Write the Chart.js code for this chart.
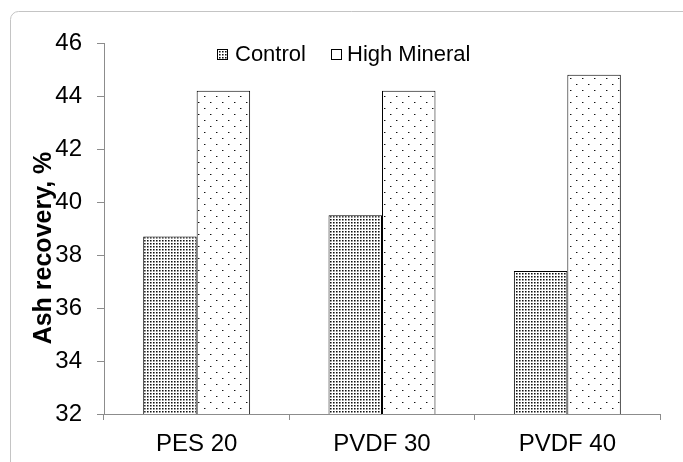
<!DOCTYPE html>
<html>
<head>
<meta charset="utf-8">
<script src="https://cdn.jsdelivr.net/npm/chart.js@4/dist/chart.umd.min.js"></script>
<style>
html,body{margin:0;padding:0;background:#fff;}
#wrap{width:683px;height:462px;position:relative;}
</style>
</head>
<body>
<div id="wrap"><canvas id="c" width="683" height="462"></canvas></div>
<script>
const categories = ["PES 20", "PVDF 30", "PVDF 40"];
const seriesNames = ["Control", "High Mineral"];
const controlValues = [38.7, 39.5, 37.4];
const highMineralValues = [44.2, 44.2, 44.8];
const yTicks = [32, 34, 36, 38, 40, 42, 44, 46];
const yTitle = "Ash recovery, %";

const FONT = '"Liberation Sans", Arial, sans-serif';

function makePattern(size, dots) {
  const c = document.createElement('canvas');
  c.width = size[0]; c.height = size[1];
  const g = c.getContext('2d');
  g.fillStyle = '#fff';
  g.fillRect(0, 0, c.width, c.height);
  dots.forEach(d => { g.fillStyle = d[2]; g.fillRect(d[0], d[1], 1, 1); });
  return g.createPattern(c, 'repeat');
}
const denseDots = makePattern([3, 3], [[0,0,'#111'],[1,0,'#777'],[0,1,'#888'],[1,1,'#bbb']]);
const sparseDots = makePattern([12, 12], [[0,0,'#111'],[1,0,'#999'],[6,6,'#111'],[7,6,'#999']]);

const frame = {
  id: 'frame',
  beforeDraw(chart) {
    const ctx = chart.ctx;
    ctx.save();
    ctx.strokeStyle = '#c4c4c4';
    ctx.lineWidth = 1;
    ctx.beginPath();
    ctx.roundRect(10.5, 11.5, 700, 500, 8);
    ctx.stroke();
    ctx.restore();
  }
};

const customLegend = {
  id: 'customLegend',
  afterDraw(chart) {
    const ctx = chart.ctx;
    const items = [{x: 217, tx: 235}, {x: 331, tx: 347}];
    ctx.save();
    ctx.font = '22px ' + FONT;
    ctx.textBaseline = 'middle';
    chart.data.datasets.forEach((ds, i) => {
      const it = items[i];
      ctx.fillStyle = ds.backgroundColor;
      ctx.fillRect(it.x, 49, 11, 11);
      ctx.strokeStyle = '#000';
      ctx.lineWidth = 1;
      ctx.strokeRect(it.x + 0.5, 49.5, 10, 10);
      ctx.fillStyle = '#000';
      ctx.fillText(ds.label, it.tx, 55);
    });
    ctx.restore();
  }
};

const yAxisTitle = {
  id: 'yAxisTitle',
  afterDraw(chart) {
    const ctx = chart.ctx;
    ctx.save();
    ctx.translate(44, 248);
    ctx.rotate(-Math.PI / 2);
    ctx.font = 'bold 25px ' + FONT;
    ctx.fillStyle = '#000';
    ctx.textAlign = 'center';
    ctx.textBaseline = 'middle';
    ctx.fillText(yTitle, 0, 0);
    ctx.restore();
  }
};

new Chart(document.getElementById('c'), {
  type: 'bar',
  data: {
    labels: categories,
    datasets: [
      { label: seriesNames[0], data: controlValues, backgroundColor: denseDots, borderColor: '#000', borderWidth: 1 },
      { label: seriesNames[1], data: highMineralValues, backgroundColor: sparseDots, borderColor: '#000', borderWidth: 1 }
    ]
  },
  options: {
    responsive: false,
    animation: false,
    events: [],
    layout: { padding: { left: 0, right: 23, top: 43, bottom: 0 } },
    datasets: { bar: { categoryPercentage: 0.577, barPercentage: 1.0 } },
    plugins: { legend: { display: false }, tooltip: { enabled: false }, title: { display: false } },
    scales: {
      x: {
        offset: true,
        grid: { offset: true, drawOnChartArea: false, drawTicks: true, tickLength: 6, color: '#8c8c8c' },
        border: { display: true, color: '#8c8c8c', width: 1 },
        ticks: { color: '#000', padding: 10, font: { family: FONT, size: 24 } },
        afterFit(s) { s.height = 48; }
      },
      y: {
        min: 32, max: 46,
        afterBuildTicks(s) { s.ticks = yTicks.map(v => ({ value: v })); },
        grid: { drawOnChartArea: false, drawTicks: true, tickLength: 7, color: '#8c8c8c' },
        border: { display: true, color: '#8c8c8c', width: 1 },
        ticks: { color: '#000', padding: 15, font: { family: FONT, size: 24 } },
        afterFit(s) { s.width = 104; }
      }
    }
  },
  plugins: [frame, customLegend, yAxisTitle]
});
</script>
</body>
</html>
